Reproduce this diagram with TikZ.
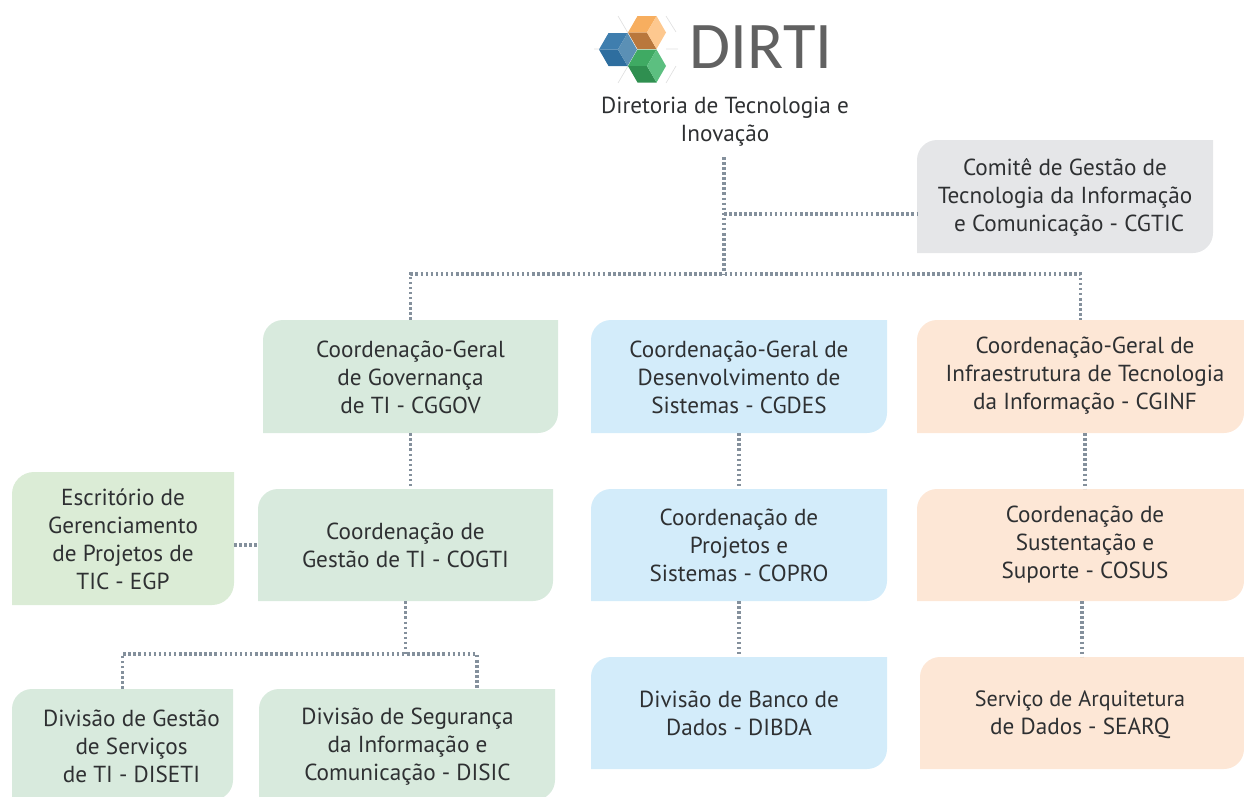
\documentclass[tikz,border=0pt]{standalone}
\usepackage{fontspec}
\setmainfont{PT Sans}
\newfontfamily\bodyfont{PT Sans}
\newfontfamily\logofont{Carlito}
\usetikzlibrary{calc}
\definecolor{ink}{HTML}{2E3032}
\definecolor{dotc}{HTML}{84909C}
\definecolor{gryb}{HTML}{E5E6E8}
\definecolor{grnb}{HTML}{D8EADD}
\definecolor{lgrb}{HTML}{DBECD6}
\definecolor{blub}{HTML}{D3ECFA}
\definecolor{orab}{HTML}{FDE7D6}
\definecolor{ba}{HTML}{3F7EAE}\definecolor{bb}{HTML}{2E6E9F}\definecolor{bc}{HTML}{5B90B5}
\definecolor{oa}{HTML}{F7AE5F}\definecolor{ob}{HTML}{B9773C}\definecolor{oc}{HTML}{FDC88F}
\definecolor{ga}{HTML}{3FAA63}\definecolor{gb}{HTML}{2F8F50}\definecolor{gc}{HTML}{5CBF80}
\tikzset{
  link/.style={draw=dotc,line width=2.4pt,dash pattern=on 1.9pt off 1.9pt},
  boxlabel/.style={align=center,text=ink,font=\bodyfont\fontsize{17.4pt}{21pt}\selectfont,inner sep=0pt},
}
% name, x1, y1, x2, y2, radius, colour, text, text offset
\newcommand{\orgbox}[9]{%
  \fill[#7] (#2,#3+#6) arc[start angle=180,end angle=270,radius=#6] -- (#4,#3) -- (#4,#5-#6)
     arc[start angle=0,end angle=90,radius=#6] -- (#2,#5) -- cycle;
  \node[minimum width={(#4-#2)*0.75pt},minimum height={(#5-#3)*0.75pt},inner sep=0pt] (#1) at ({(#2+#4)/2},{(#3+#5)/2}) {};
  \node[boxlabel] at ($(#1.center)+(#9)$) {#8};
}
% cube: cx cy top bottom right
\newcommand{\cube}[5]{%
  \fill[#3] (#1-19,#2) -- (#1-9.5,#2-16.5) -- (#1+9.5,#2-16.5) -- (#1,#2) -- cycle;
  \fill[#4] (#1-19,#2) -- (#1,#2) -- (#1+9.5,#2+16.5) -- (#1-9.5,#2+16.5) -- cycle;
  \fill[#5] (#1,#2) -- (#1+9.5,#2-16.5) -- (#1+19,#2) -- (#1+9.5,#2+16.5) -- cycle;
}
\begin{document}
\begin{tikzpicture}[x=0.75pt,y=-0.75pt]
\useasboundingbox (0,0) rectangle (1244,796);
% logo
\draw[black!12,line width=.5pt] (618,16)--(628,33) (666,16)--(676,32) (599,49)--(594,49) (666,49)--(678,49) (618,83)--(628,66) (666,83)--(676,66);
\cube{618}{49.5}{ba}{bb}{bc}
\cube{647}{32.5}{oa}{ob}{oc}
\cube{647}{66}{ga}{gb}{gc}
\node[inner sep=0pt,text=black!62,font=\logofont\fontsize{50pt}{50pt}\selectfont] (logo) at (761,47) {DIRTI};
\node[boxlabel] (title) at (725,122) {Diretoria de Tecnologia e\\Inovação};
\orgbox{cgtic}{917}{140}{1213}{253}{20}{gryb}{Comitê de Gestão de\\Tecnologia da Informação\\\hspace*{6pt}e Comunicação - CGTIC}{0,1}
\orgbox{cggov}{263}{320}{558}{433}{20}{grnb}{Coordenação-Geral\\de Governança\\de TI - CGGOV}{0,1}
\orgbox{cgdes}{591}{320}{887}{433}{20}{blub}{Coordenação-Geral de\\Desenvolvimento de\\Sistemas - CGDES}{0,1}
\orgbox{cginf}{917}{320}{1244}{433}{20}{orab}{Coordenação-Geral de\\Infraestrutura de Tecnologia\\da Informação - CGINF}{4.5,-1}
\orgbox{egp}{12}{472}{234}{605}{22}{lgrb}{Escritório de\\Gerenciamento\\de Projetos de\\TIC - EGP}{0,1}
\orgbox{cogti}{258}{489}{553}{601}{20}{grnb}{Coordenação de\\Gestão de TI - COGTI}{0,0}
\orgbox{copro}{591}{489}{887}{601}{20}{blub}{Coordenação de\\Projetos e\\Sistemas - COPRO}{0,0}
\orgbox{cosus}{917}{489}{1244}{601}{20}{orab}{Coordenação de\\Sustentação e\\Suporte - COSUS}{4.5,0}
\orgbox{diseti}{12}{689}{233}{800}{20}{grnb}{Divisão de Gestão\\de Serviços\\de TI - DISETI}{9,1.5}
\orgbox{disic}{259}{689}{555}{800}{20}{grnb}{Divisão de Segurança\\da Informação e\\Comunicação - DISIC}{0.5,2}
\orgbox{dibda}{591}{657}{887}{769}{20}{blub}{Divisão de Banco de\\Dados - DIBDA}{0,0}
\orgbox{searq}{920}{657}{1244}{769}{20}{orab}{\fontsize{16.6pt}{21pt}\selectfont Serviço de Arquitetura\\de Dados - SEARQ}{-2,2}
% connectors
\coordinate (tstart) at (724,157);
\coordinate (tjoin) at (724,214);
\coordinate (tbar) at (724,274);
\draw[link] (tstart) -- (tbar);
\draw[link] (tjoin) -- (tjoin -| cgtic.west);
\draw[link] (cggov.north) -- (cggov.north |- tbar) -- (cginf.north |- tbar) -- (cginf.north);
\draw[link] (cggov.south) -- (cggov.south |- cogti.north);
\draw[link] (cgdes.south) -- (copro.north);
\draw[link] (copro.south) -- (dibda.north);
\coordinate (infa) at (1085,433);
\draw[link] (infa) -- (infa |- cosus.north);
\coordinate (infb) at (1082,601);
\draw[link] (infb) -- (infb |- searq.north);
\coordinate (egpy) at (234,545);
\draw[link] (egpy) -- (egpy -| cogti.west);
\coordinate (split) at (405.5,654);
\coordinate (rdrop) at (477,654);
\draw[link] (cogti.south) -- (split);
\draw[link] (diseti.north) -- (diseti.north |- split) -- (rdrop) -- (rdrop |- disic.north);
\end{tikzpicture}
\end{document}
